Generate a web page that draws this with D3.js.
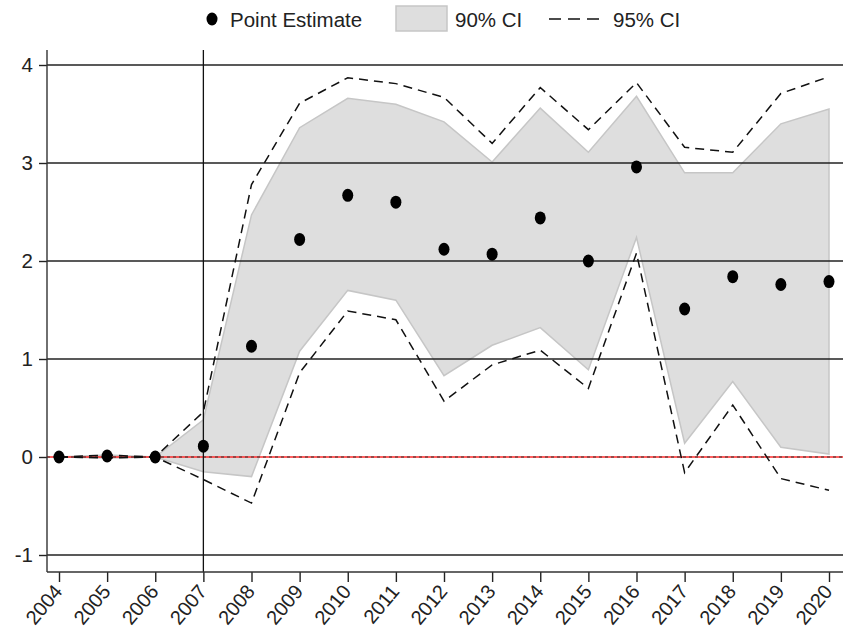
<!DOCTYPE html>
<html>
<head>
<meta charset="utf-8">
<script src="https://cdn.jsdelivr.net/npm/d3@7"></script>
<style>
  html, body { margin: 0; padding: 0; background: #fff; }
  svg { display: block; font-family: "Liberation Sans", Arial, sans-serif; }
</style>
</head>
<body>
<svg id="chart" width="851" height="633"></svg>
<script>
// Event-study estimates by year with confidence bands
const years = [2004, 2005, 2006, 2007, 2008, 2009, 2010, 2011, 2012, 2013, 2014, 2015, 2016, 2017, 2018, 2019, 2020];
const pointEstimate = [0, 0.01, 0, 0.11, 1.13, 2.22, 2.67, 2.60, 2.12, 2.07, 2.44, 2.00, 2.96, 1.51, 1.84, 1.76, 1.79];
const ci90Upper = [0, 0.02, 0, 0.38, 2.47, 3.36, 3.66, 3.60, 3.42, 3.01, 3.56, 3.11, 3.68, 2.90, 2.90, 3.40, 3.55];
const ci90Lower = [0, -0.01, 0, -0.15, -0.20, 1.08, 1.70, 1.60, 0.83, 1.14, 1.32, 0.89, 2.24, 0.14, 0.77, 0.10, 0.03];
const ci95Upper = [0, 0.02, 0, 0.46, 2.78, 3.61, 3.87, 3.81, 3.67, 3.20, 3.77, 3.34, 3.82, 3.16, 3.11, 3.71, 3.88];
const ci95Lower = [0, -0.01, 0, -0.23, -0.47, 0.86, 1.49, 1.40, 0.57, 0.94, 1.09, 0.70, 2.08, -0.16, 0.53, -0.22, -0.34];
const yTicks = [-1, 0, 1, 2, 3, 4];
const treatmentYear = 2007;
const legendLabels = ["Point Estimate", "90% CI", "95% CI"];

const svg = d3.select("#chart");
const plot = { left: 47, right: 843, top: 50, bottom: 572 };

const x = d3.scalePoint().domain(years).range([59, 829]);
const y = d3.scaleLinear().domain([-1, 4]).range([555, 65]);

const rows = years.map((yr, i) => ({
  year: yr, est: pointEstimate[i],
  lo90: ci90Lower[i], hi90: ci90Upper[i],
  lo95: ci95Lower[i], hi95: ci95Upper[i]
}));

// 90% band
svg.append("path")
  .datum(rows)
  .attr("d", d3.area().x(d => x(d.year)).y0(d => y(d.lo90)).y1(d => y(d.hi90)))
  .attr("fill", "#dedede")
  .attr("stroke", "#c6c6c6")
  .attr("stroke-width", 1.5);

// Horizontal gridlines (zero line drawn separately in red)
svg.append("g")
  .selectAll("line")
  .data(yTicks.filter(t => t !== 0))
  .join("line")
  .attr("x1", plot.left).attr("x2", plot.right)
  .attr("y1", d => y(d)).attr("y2", d => y(d))
  .attr("stroke", "#222")
  .attr("stroke-width", 1.4);

// Zero reference line
svg.append("line")
  .attr("x1", plot.left).attr("x2", plot.right)
  .attr("y1", y(0)).attr("y2", y(0))
  .attr("stroke", "#ff2a2a")
  .attr("stroke-width", 1.5);
svg.append("line")
  .attr("x1", plot.left).attr("x2", plot.right)
  .attr("y1", y(0)).attr("y2", y(0))
  .attr("stroke", "#333")
  .attr("stroke-width", 1)
  .attr("stroke-dasharray", "3,3");

// Treatment year marker
svg.append("line")
  .attr("x1", x(treatmentYear)).attr("x2", x(treatmentYear))
  .attr("y1", plot.top).attr("y2", plot.bottom)
  .attr("stroke", "#111")
  .attr("stroke-width", 1.3);

// 95% bounds as dashed lines
const dashLine = key => d3.line().x(d => x(d.year)).y(d => y(d[key]));
["hi95", "lo95"].forEach(k => {
  svg.append("path")
    .datum(rows)
    .attr("d", dashLine(k))
    .attr("fill", "none")
    .attr("stroke", "#111")
    .attr("stroke-width", 1.5)
    .attr("stroke-dasharray", "9,6");
});

// Point estimates
svg.append("g")
  .selectAll("ellipse")
  .data(rows)
  .join("ellipse")
  .attr("cx", d => x(d.year))
  .attr("cy", d => y(d.est))
  .attr("rx", 5.5)
  .attr("ry", 6.5)
  .attr("fill", "#000");

// Y axis (plain hyphen for negative labels)
const yAxis = svg.append("g")
  .attr("transform", `translate(${plot.left},0)`)
  .call(d3.axisLeft(y).tickValues(yTicks).tickSize(8).tickPadding(6).tickFormat(d => String(d)));
yAxis.select(".domain").remove();
yAxis.selectAll(".tick line").attr("stroke", "#222").attr("stroke-width", 1.4);
yAxis.selectAll(".tick text")
  .attr("font-size", 20.5)
  .attr("fill", "#222")
  .attr("font-family", "'Liberation Sans', Arial, sans-serif");
svg.append("line")
  .attr("x1", plot.left).attr("x2", plot.left)
  .attr("y1", plot.top).attr("y2", plot.bottom)
  .attr("stroke", "#333").attr("stroke-width", 1.4);

// X axis
const xAxis = svg.append("g")
  .attr("transform", `translate(0,${plot.bottom})`)
  .call(d3.axisBottom(x).tickSize(10).tickFormat(d3.format("d")));
xAxis.select(".domain").remove();
xAxis.selectAll(".tick line").attr("stroke", "#222").attr("stroke-width", 1.4);
xAxis.selectAll(".tick text")
  .attr("font-size", 20)
  .attr("fill", "#222")
  .attr("font-family", "'Liberation Sans', Arial, sans-serif")
  .attr("text-anchor", "end")
  .attr("dy", null)
  .attr("y", 0)
  .attr("transform", "translate(4,20) rotate(-50)");
svg.append("line")
  .attr("x1", plot.left).attr("x2", plot.right)
  .attr("y1", plot.bottom).attr("y2", plot.bottom)
  .attr("stroke", "#333").attr("stroke-width", 1.4);

// Legend
const lg = svg.append("g").attr("font-size", 20.5).attr("fill", "#222");
lg.append("ellipse").attr("cx", 212).attr("cy", 19).attr("rx", 5.5).attr("ry", 6.5).attr("fill", "#000");
lg.append("text").attr("x", 230).attr("y", 27).text(legendLabels[0]);
lg.append("rect").attr("x", 396).attr("y", 6).attr("width", 51).attr("height", 25)
  .attr("fill", "#dedede").attr("stroke", "#c6c6c6").attr("stroke-width", 1.5);
lg.append("text").attr("x", 455).attr("y", 27).text(legendLabels[1]);
lg.append("line").attr("x1", 549).attr("x2", 601).attr("y1", 19).attr("y2", 19)
  .attr("stroke", "#111").attr("stroke-width", 1.5).attr("stroke-dasharray", "12,7");
lg.append("text").attr("x", 613).attr("y", 27).text(legendLabels[2]);
</script>
</body>
</html>
